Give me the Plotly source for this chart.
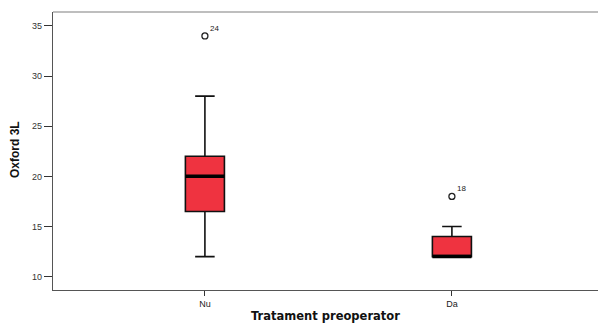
import plotly.graph_objects as go

categories = ["Nu", "Da"]
q1 = [16.5, 12.0]
medians = [20.0, 12.0]
q3 = [22.0, 14.0]
lower_whisker = [12.0, 12.0]
upper_whisker = [28.0, 15.0]
outlier_values = [34.0, 18.0]
outlier_labels = ["24", "18"]
y_ticks = [10, 15, 20, 25, 30, 35]

positions = list(range(len(categories)))
box_w = 0.158

fig = go.Figure()
fig.add_trace(go.Box(
    x=positions, q1=q1, median=medians, q3=q3,
    lowerfence=lower_whisker, upperfence=upper_whisker,
    width=box_w, whiskerwidth=0.5,
    fillcolor="#EF3340", line=dict(color="#111111", width=1.6),
    boxpoints=False, hoverinfo="skip", showlegend=False,
))
# thick median lines
for p, m in zip(positions, medians):
    fig.add_trace(go.Scatter(
        x=[p - box_w / 2, p + box_w / 2], y=[m, m], mode="lines",
        line=dict(color="#000000", width=3.5), showlegend=False, hoverinfo="skip",
    ))
# outliers
fig.add_trace(go.Scatter(
    x=positions, y=outlier_values, mode="markers",
    marker=dict(symbol="circle-open", size=6, color="#222222", line=dict(width=1.3)),
    showlegend=False, hoverinfo="skip",
))
for p, v, lab in zip(positions, outlier_values, outlier_labels):
    fig.add_annotation(x=p, y=v, text=lab, showarrow=False, xanchor="left", yanchor="bottom",
                       xshift=3, yshift=1, font=dict(size=8, color="#222222",
                       family="Liberation Sans, Arial, sans-serif"))

# top border
fig.add_shape(type="line", xref="paper", yref="paper", x0=0, x1=1, y0=1, y1=1,
              line=dict(color="#a8a8a8", width=1.5))

plot_w = 560  # plot area extends a little past the right window edge

# axis titles
fig.add_annotation(xref="paper", yref="paper", x=(325 - 53) / plot_w, y=-0.094, yanchor="middle",
                   text="<b>Tratament preoperator</b>", showarrow=False, yshift=0,
                   font=dict(size=11.5, color="#111111", family="DejaVu Sans, Verdana, sans-serif"))
fig.add_annotation(xref="paper", yref="paper", x=0, xshift=-38, y=(290 - 150) / 278,
                   text="<b>Oxford 3L</b>", showarrow=False, textangle=-90,
                   xanchor="center", yanchor="middle",
                   font=dict(size=12, color="#111111",
                             family="Liberation Sans Narrow, Arial Narrow, sans-serif"))

fig.update_layout(
    width=53 + plot_w, height=323,
    margin=dict(l=53, r=0, t=12, b=33),
    plot_bgcolor="white", paper_bgcolor="white",
    xaxis=dict(
        range=[-0.615, -0.615 + plot_w / 247.0], tickvals=positions, ticktext=categories,
        automargin=False,
        showgrid=False, zeroline=False, showline=True, linecolor="#555555", linewidth=1.3,
        ticks="outside", ticklen=5, tickcolor="#333333",
        tickfont=dict(size=9, color="#222222", family="Liberation Sans, Arial, sans-serif"),
    ),
    yaxis=dict(
        range=[8.67, 36.39], tickvals=y_ticks, automargin=False,
        showgrid=False, zeroline=False, showline=True, linecolor="#555555", linewidth=1.3,
        ticks="outside", ticklen=8, tickcolor="#333333",
        tickfont=dict(size=9, color="#333333", family="Liberation Sans, Arial, sans-serif"),
    ),
)

fig.write_html(
    "out.html",
    config={"displayModeBar": False, "staticPlot": True},
    post_script="document.body.style.margin='0';document.documentElement.style.overflow='hidden';document.body.style.overflow='hidden';",
)
